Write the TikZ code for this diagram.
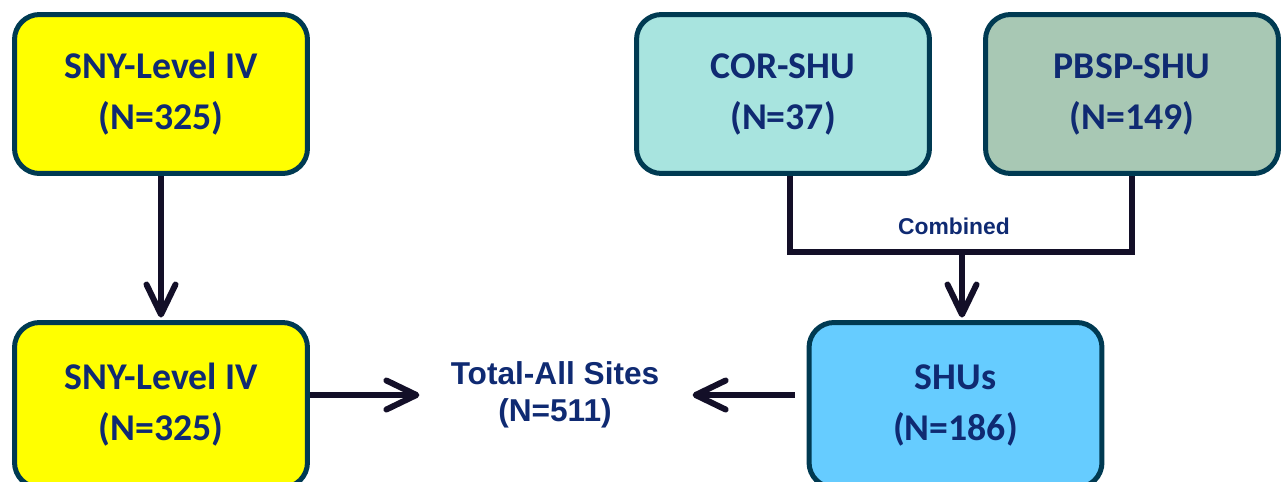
\documentclass[tikz,border=0pt]{standalone}
\usepackage{fontspec}
\setmainfont{Carlito}
\newfontfamily\arialfont{Liberation Sans}
\usetikzlibrary{arrows.meta}
\definecolor{boxline}{HTML}{003A52}
\definecolor{txtblue}{HTML}{0F2A72}
\definecolor{cline}{HTML}{130F28}
\definecolor{snyyel}{HTML}{FFFF00}
\definecolor{corcol}{HTML}{A8E4DF}
\definecolor{pbspcol}{HTML}{A8C8B4}
\definecolor{shucol}{HTML}{66CCFF}

\begin{document}
\begin{tikzpicture}[x=0.02cm, y=-0.02cm,
	site/.style={draw=boxline, line width=0.1cm, rounded corners=0.5cm,
		minimum width=5.86cm, minimum height=3.18cm, align=center,
		text=txtblue, font=\fontsize{21.5}{29}\selectfont\bfseries},
	flow/.style={draw=cline, line width=0.12cm,
		-{Straight Barb[length=0.6cm,width=0.58cm,round]}}]
		
		\useasboundingbox (0,0) rectangle (1283,481);
		
		% sites
		\node[site, fill=snyyel] (sny1) at (161,94) {SNY-Level IV\\(N=325)};
		\node[site, fill=snyyel, minimum height=3.3cm] (sny2) at (161,405) {SNY-Level IV\\(N=325)};
		\node[site, fill=corcol] (cor) at (783,94) {COR-SHU\\(N=37)};
		\node[site, fill=pbspcol] (pbsp) at (1132,94) {PBSP-SHU\\(N=149)};
		\node[site, fill=shucol, minimum height=3.3cm] (shus) at (955.5,405) {SHUs\\(N=186)};
		
		% totals
		\node[font=\arialfont\fontsize{18}{21}\selectfont\bfseries, text=txtblue,
			align=center, inner sep=0pt] (total) at (555,395) {Total-All Sites\\(N=511)};
		\node[font=\arialfont\fontsize{13}{15}\selectfont\bfseries, text=txtblue] (comb) at (954,226) {Combined};
		\coordinate (join) at (962,252);
		
		% arrows
		\draw[flow, shorten >=0.05cm] (sny1) -- (sny2);
		\draw[flow, shorten >=0.62cm] (sny2.east |- total) -- (total.west);
		\draw[flow, shorten <=0.24cm, shorten >=0.66cm] (shus.west |- total) -- (total.east);
		\draw[draw=cline, line width=0.12cm] ([xshift=0.14cm]cor.south) |- (join) -| (pbsp.south);
		\draw[flow, shorten >=0.05cm] (join) -- (join |- shus.north);
		
\end{tikzpicture}
\end{document}
